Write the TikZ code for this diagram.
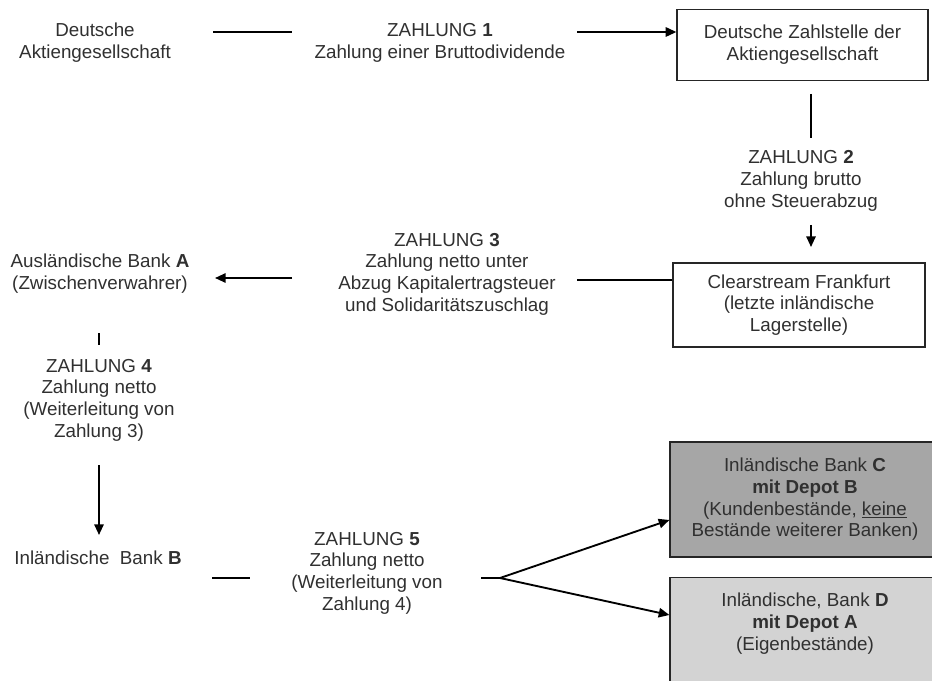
\documentclass[tikz,border=0pt]{standalone}
\usepackage{fontspec}
\setmainfont{Liberation Sans}
\usepackage{tikz}
\usetikzlibrary{arrows.meta}

\definecolor{inkgray}{HTML}{303030}
\definecolor{darkfill}{HTML}{A6A6A6}
\definecolor{lightfill}{HTML}{D3D3D3}

\tikzset{
  txt/.style={align=center, text=inkgray, inner sep=0pt, font=\fontsize{14.1}{16.3}\selectfont},
  box/.style={txt, draw=black!85, line width=0.9pt},
  link/.style={line width=1.4pt},
  flow/.style={link, -{Triangle[length=8pt,width=7pt]}},
}

\begin{document}
\begin{tikzpicture}[x=0.75pt,y=-0.75pt]
\useasboundingbox (0,0) rectangle (932,681);
\clip (0,0) rectangle (932,681);

\node[txt] (ag) at (95,43) {Deutsche\\Aktiengesellschaft};
\node[box, minimum width=188.25pt, minimum height=52.9pt] (zahlstelle) at (802.5,45) {Deutsche Zahlstelle der\\Aktiengesellschaft};
\node[box, minimum width=189pt, minimum height=63pt] (clearstream) at (799,305) {Clearstream Frankfurt\\(letzte inländische\\Lagerstelle)};
\node[txt] (bankA) at (100,274) {Ausländische Bank \textbf{A}\\(Zwischenverwahrer)};
\node[txt] (bankB) at (98,558) {Inländische\ \ Bank \textbf{B}};
\node[box, fill=darkfill, minimum width=202.5pt, minimum height=86.25pt] (bankC) at (805,499.5) {Inländische Bank \textbf{C}\\\textbf{mit Depot B}\\(Kundenbestände, \underline{keine}\\Bestände weiterer Banken)};
\node[box, fill=lightfill, anchor=north, minimum width=202.5pt, inner ysep=11.75pt, text depth=70pt] (bankD) at (805,577) {Inländische, Bank \textbf{D}\\\textbf{mit Depot A}\\(Eigenbestände)};

\node[txt] (z1) at (440,43) {ZAHLUNG \textbf{1}\\Zahlung einer Bruttodividende};
\node[txt] (z2) at (801,181) {ZAHLUNG \textbf{2}\\Zahlung brutto\\ohne Steuerabzug};
\node[txt] (z3) at (447,274) {ZAHLUNG \textbf{3}\\Zahlung netto unter\\Abzug Kapitalertragsteuer\\und Solidaritätszuschlag};
\node[txt] (z4) at (99,400) {ZAHLUNG \textbf{4}\\Zahlung netto\\(Weiterleitung von\\Zahlung 3)};
\node[txt] (z5) at (367,573) {ZAHLUNG \textbf{5}\\Zahlung netto\\(Weiterleitung von\\Zahlung 4)};

\coordinate (l1a) at (213,32);
\coordinate (l1b) at (292,32);
\coordinate (a1) at (577,32);
\coordinate (l2a) at (811,94);
\coordinate (l2b) at (811,138);
\coordinate (a2a) at (811,225);
\coordinate (a2b) at (811,247);
\coordinate (l3) at (577,280);
\coordinate (a3a) at (292,278);
\coordinate (a3b) at (215,278);
\coordinate (l4a) at (99,333);
\coordinate (l4b) at (99,345);
\coordinate (a4a) at (99,465);
\coordinate (a4b) at (99,535);
\coordinate (l5a) at (212,578);
\coordinate (l5b) at (250,578);
\coordinate (l5c) at (481,578);
\coordinate (fork) at (500,578);
\path (bankC.west) +(0,20.5) coordinate (tipC);
\path (bankD.north west) +(0,38) coordinate (tipD);

\draw[link] (l1a) -- (l1b);
\draw[flow] (a1) -- (a1 -| zahlstelle.west);
\draw[link] (l2a) -- (l2b);
\draw[flow] (a2a) -- (a2b);
\draw[link] (l3 -| clearstream.west) -- (l3);
\draw[flow] (a3a) -- (a3b);
\draw[link] (l4a) -- (l4b);
\draw[flow] (a4a) -- (a4b);
\draw[link] (l5a) -- (l5b);
\draw[link] (l5c) -- (fork);
\draw[flow] (fork) -- (tipC);
\draw[flow] (fork) -- (tipD);

\end{tikzpicture}
\end{document}
